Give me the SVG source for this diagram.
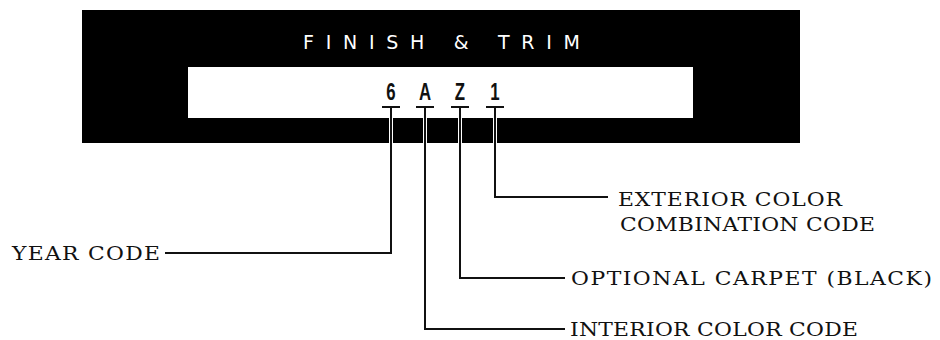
<svg xmlns="http://www.w3.org/2000/svg" width="940" height="340" viewBox="0 0 940 340">
<style>
.lbl{font-family:"DejaVu Serif","Liberation Serif",serif;font-size:19px;fill:#111}
.code{font-family:"Liberation Sans",Arial,sans-serif;font-weight:bold;font-size:24px;fill:#111}
.lead{fill:none;stroke:#111;stroke-width:2}
.halo{fill:none;stroke:#fff;stroke-width:4}
.tbar{stroke:#111;stroke-width:2}
</style>
<rect width="940" height="340" fill="#fff"/>
<g id="plate">
<rect x="82" y="10" width="718" height="133" fill="#000"/>
<rect x="188" y="67" width="505" height="51" fill="#fff"/>
<text x="303" y="49" textLength="277" lengthAdjust="spacing" style="font-family:'DejaVu Sans','Liberation Sans',sans-serif;font-size:19px;fill:#fff">FINISH &amp; TRIM</text>
</g>
<g id="codes">
<text class="code" transform="translate(391,100) scale(0.7,1)" text-anchor="middle">6</text>
<text class="code" transform="translate(425,100) scale(0.7,1)" text-anchor="middle">A</text>
<text class="code" transform="translate(460,100) scale(0.7,1)" text-anchor="middle">Z</text>
<text class="code" transform="translate(495,100) scale(0.7,1)" text-anchor="middle">1</text>
<line class="tbar" x1="382" y1="107" x2="400" y2="107"/>
<line class="tbar" x1="416" y1="107" x2="434" y2="107"/>
<line class="tbar" x1="451" y1="107" x2="469" y2="107"/>
<line class="tbar" x1="486" y1="107" x2="504" y2="107"/>
</g>
<g id="connectors">
<line class="halo" x1="391" y1="118" x2="391" y2="143"/>
<line class="halo" x1="425" y1="118" x2="425" y2="143"/>
<line class="halo" x1="460" y1="118" x2="460" y2="143"/>
<line class="halo" x1="495" y1="118" x2="495" y2="143"/>
<polyline class="lead" points="391,107 391,253 165,253"/>
<polyline class="lead" points="425,107 425,329 565,329"/>
<polyline class="lead" points="460,107 460,278 565,278"/>
<polyline class="lead" points="495,107 495,197 608,197"/>
</g>
<g id="year"><text class="lbl" transform="translate(12,260) scale(1.15,1)" textLength="128.7" lengthAdjust="spacing">YEAR CODE</text></g>
<g id="exterior">
<text class="lbl" transform="translate(618,206) scale(1.15,1)" textLength="194.8" lengthAdjust="spacing">EXTERIOR COLOR</text>
<text class="lbl" transform="translate(620,231) scale(1.15,1)" textLength="221.7" lengthAdjust="spacing">COMBINATION CODE</text>
</g>
<g id="carpet"><text class="lbl" transform="translate(571,285) scale(1.15,1)" textLength="313.9" lengthAdjust="spacing">OPTIONAL CARPET (BLACK)</text></g>
<g id="interior"><text class="lbl" transform="translate(570,336) scale(1.15,1)" textLength="250.4" lengthAdjust="spacing">INTERIOR COLOR CODE</text></g>
</svg>
